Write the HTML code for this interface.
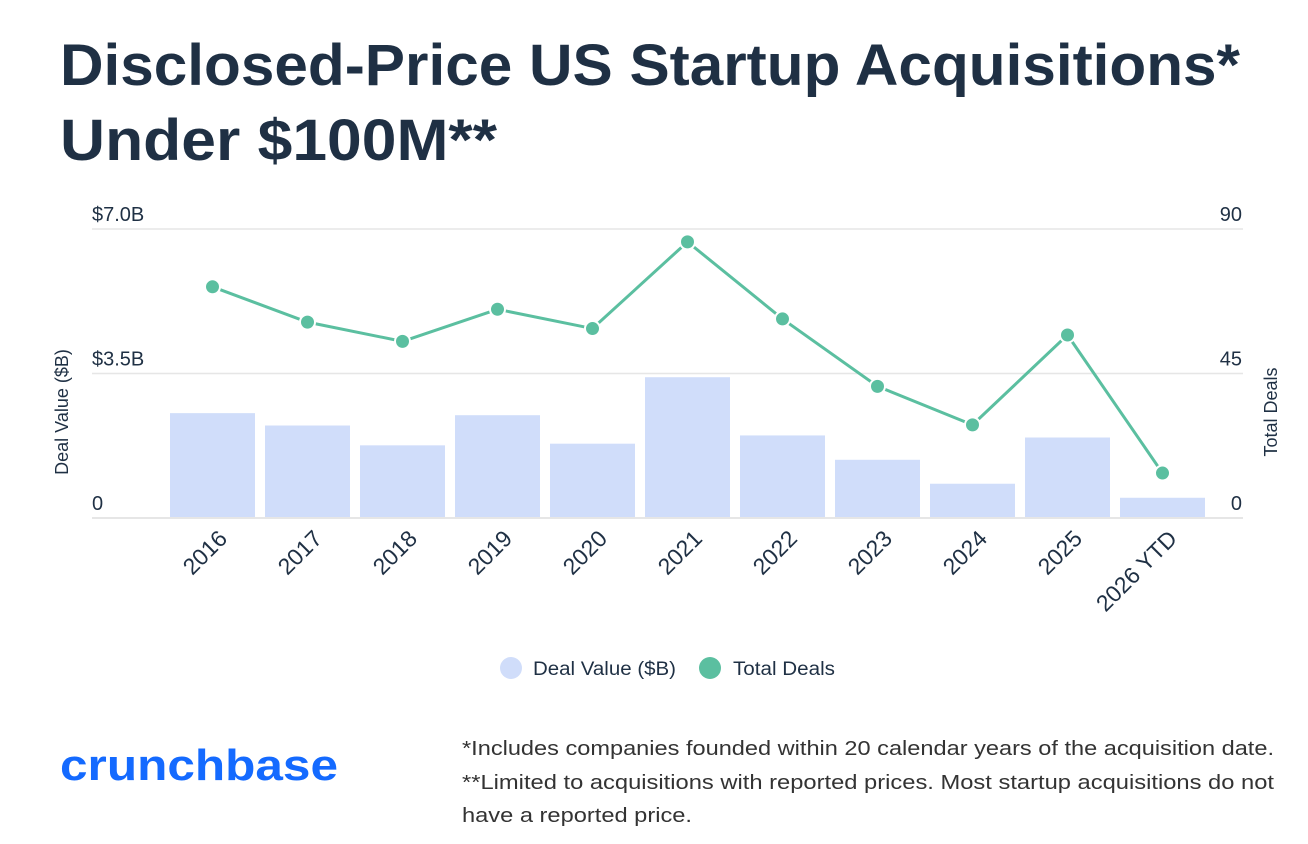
<!DOCTYPE html>
<html><head><meta charset="utf-8"><style>
html,body{margin:0;padding:0;background:#fff;}
svg{display:block;font-family:"Liberation Sans",sans-serif;}
</style></head><body>
<svg width="1308" height="844" viewBox="0 0 1308 844">
<text x="60" y="85" font-size="58" font-weight="bold" fill="#1f3044" textLength="1180" lengthAdjust="spacingAndGlyphs">Disclosed-Price US Startup Acquisitions*</text>
<text x="60" y="160" font-size="58" font-weight="bold" fill="#1f3044" textLength="437" lengthAdjust="spacingAndGlyphs">Under $100M**</text>
<g id="grid"></g>
<g id="bars"></g>
<g id="line"></g>
<g id="xlabels"></g>
<g id="yl"></g>
<g id="yr"></g>
<text transform="translate(68,412) rotate(-90)" text-anchor="middle" font-size="18" fill="#1f3044">Deal Value ($B)</text>
<text transform="translate(1277,412) rotate(-90)" text-anchor="middle" font-size="18" fill="#1f3044">Total Deals</text>
<g>
<g><circle cx="511" cy="668" r="11" fill="#d0ddfa"/><text x="533" y="675" font-size="19" fill="#1f3044" textLength="143" lengthAdjust="spacingAndGlyphs">Deal Value ($B)</text></g>
<g><circle cx="710" cy="668" r="11" fill="#5bbfa0"/><text x="733" y="675" font-size="19" fill="#1f3044" textLength="102" lengthAdjust="spacingAndGlyphs">Total Deals</text></g>
</g>
<text x="60" y="780" font-size="44" font-weight="bold" fill="#146aff" textLength="278" lengthAdjust="spacingAndGlyphs">crunchbase</text>
<g font-size="20" fill="#333">
<text x="462" y="755" textLength="812" lengthAdjust="spacingAndGlyphs">*Includes companies founded within 20 calendar years of the acquisition date.</text>
<text x="462" y="789" textLength="812" lengthAdjust="spacingAndGlyphs">**Limited to acquisitions with reported prices. Most startup acquisitions do not</text>
<text x="462" y="822" textLength="230" lengthAdjust="spacingAndGlyphs">have a reported price.</text>
</g>
</svg>
<script>
const categories = ["2016","2017","2018","2019","2020","2021","2022","2023","2024","2025","2026 YTD"];
const dealValues = [2.54,2.24,1.76,2.49,1.80,3.41,2.00,1.41,0.83,1.95,0.49];
const totalDeals = [72,61,55,65,59,86,62,41,29,57,14];
const leftTicks = [0,3.5,7];
const leftTickLabels = ["0","$3.5B","$7.0B"];
const rightTicks = [0,45,90];
const rightTickLabels = ["0","45","90"];

const NS="http://www.w3.org/2000/svg";
const plotL=165, plotR=1210, y0=518, yTop=229;
const band=(plotR-plotL)/categories.length;
const xc=i=>plotL+band*(i+0.5);
const yL=v=>y0-(v/7)*(y0-yTop);
const yR=v=>y0-(v/90)*(y0-yTop);
function mk(tag,attrs,parent){const e=document.createElementNS(NS,tag);for(const k in attrs)e.setAttribute(k,attrs[k]);parent.appendChild(e);return e;}

const grid=document.getElementById('grid');
leftTicks.forEach(t=>{
  const l=mk('line',{x1:92,x2:1243,y1:yL(t),y2:yL(t),stroke:'#e6e6e6','stroke-width':t===0?2:1.5},grid);
  
  
});
const yl=document.getElementById('yl');
leftTicks.forEach((t,i)=>{
  const e=mk('text',{x:92,y:yL(t)-8,'font-size':20,fill:'#1f3044'},yl);e.textContent=leftTickLabels[i];
  
  
});
const yr=document.getElementById('yr');
rightTicks.forEach((t,i)=>{
  const e=mk('text',{x:1242,y:yR(t)-8,'font-size':20,fill:'#1f3044','text-anchor':'end'},yr);e.textContent=rightTickLabels[i];
  
  
});
const bars=document.getElementById('bars');
dealValues.forEach((v,i)=>{
  const b=mk('rect',{x:xc(i)-42.5,y:yL(v),width:85,height:y0-1-yL(v),fill:'#d0ddfa'},bars);
  
  
});
const line=document.getElementById('line');
const p=mk('polyline',{points:totalDeals.map((v,i)=>xc(i)+','+yR(v)).join(' '),fill:'none',stroke:'#5bbfa0','stroke-width':3},line);


totalDeals.forEach((v,i)=>{
  const c=mk('circle',{cx:xc(i),cy:yR(v),r:7.5,fill:'#5bbfa0',stroke:'#fff','stroke-width':2},line);
  
  
});
const xl=document.getElementById('xlabels');
categories.forEach((c,i)=>{
  const t=mk('text',{transform:`translate(${xc(i)+16},${y0+22}) rotate(-45)`,'text-anchor':'end','font-size':23,fill:'#1f3044'},xl);
  t.textContent=c;
  
  
});
</script>
</body></html>
